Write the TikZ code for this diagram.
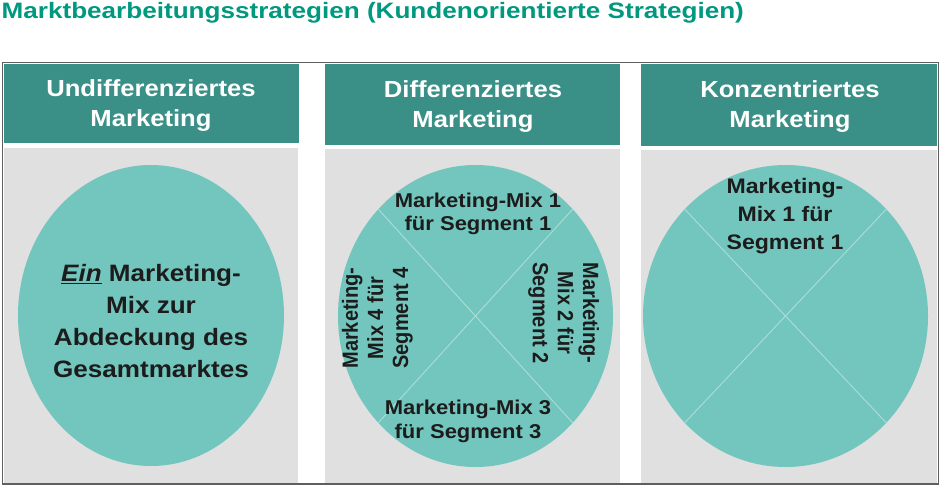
\documentclass[tikz,border=0pt]{standalone}
\usepackage{fontspec}
\setmainfont[FakeStretch=1.1]{Liberation Sans}
\newfontfamily\titlefont[FakeStretch=1.17]{Liberation Sans}
\newfontfamily\plainfont{Liberation Sans}
\definecolor{titlecol}{RGB}{0,152,126}
\definecolor{headcol}{RGB}{58,144,134}
\definecolor{circcol}{RGB}{115,198,190}
\definecolor{panelcol}{RGB}{224,224,224}
\definecolor{crosscol}{RGB}{172,222,216}
\definecolor{framecol}{RGB}{95,95,95}
\definecolor{txtcol}{RGB}{28,28,28}
\newcommand{\vtext}[1]{\scalebox{1}[1.1]{\begin{tabular}{@{}c@{}}#1\end{tabular}}}
\begin{document}
\begin{tikzpicture}[x=1pt,y=-1pt,
  headbox/.style={fill=headcol,draw=none},
  panelbox/.style={fill=panelcol,draw=none},
  headtxt/.style={text=white,font=\bfseries\fontsize{23.3}{30}\selectfont,align=center,inner sep=0pt},
  bigtxt/.style={text=txtcol,font=\bfseries\fontsize{23.7}{32}\selectfont,align=center,inner sep=0pt},
  segtxt/.style={text=txtcol,font=\bfseries\fontsize{20}{23.5}\selectfont,align=center,inner sep=0pt},
  vsegtxt/.style={text=txtcol,font=\plainfont\bfseries\fontsize{20}{22.8}\selectfont,inner sep=0pt},
  seg3txt/.style={text=txtcol,font=\bfseries\fontsize{21}{28}\selectfont,align=center,inner sep=0pt},
  crossline/.style={draw=crosscol,line width=0.9pt},
  circ/.style={fill=circcol}]
\useasboundingbox (0,0) rectangle (945,495);
% title
\node[anchor=base west,text=titlecol,font=\titlefont\bfseries\fontsize{22.3}{26}\selectfont,inner sep=0pt] (title) at (1.5,18.5) {Marktbearbeitungsstrategien (Kundenorientierte Strategien)};
% frame
\draw[framecol,line width=1.6pt,fill=white] (2.5,62.5) rectangle (938.5,484);
% column 1
\fill[headbox] (4,64) rectangle (299,143);
\fill[panelbox] (4,148) rectangle (298,483);
% column 2
\fill[headbox] (325,64) rectangle (620,145);
\fill[panelbox] (325,149) rectangle (620,483);
% column 3
\fill[headbox] (641,64) rectangle (937,146);
\fill[panelbox] (641,150) rectangle (937,483);
% headers
\node[headtxt] (h1) at (151,106) {Undifferenziertes\\Marketing};
\node[headtxt] (h2) at (473,107) {Differenziertes\\Marketing};
\node[headtxt] (h3) at (790,107) {Konzentriertes\\Marketing};
% circle 1
\fill[circ] (151,315.5) ellipse [x radius=133pt, y radius=150.5pt];
\node[bigtxt] (t1) at (151,321) {\underline{\itshape Ein} Marketing-\\Mix zur\\Abdeckung des\\Gesamtmarktes};
% circle 2
\fill[circ] (475.5,316) ellipse [x radius=137.5pt, y radius=151pt];
\coordinate (c2a) at (378.3,209.2);
\coordinate (c2b) at (572.7,209.2);
\coordinate (c2c) at (378.3,422.8);
\coordinate (c2d) at (572.7,422.8);
\draw[crossline] (c2a) -- (c2d);
\draw[crossline] (c2b) -- (c2c);
\node[segtxt] (s1) at (478,214) {Marketing-Mix 1\\für Segment 1};
\node[segtxt] (s3) at (468,421.5) {Marketing-Mix 3\\für Segment 3};
\node[vsegtxt,rotate=90] (s4) at (378,318) {\vtext{Marketing-\\Mix 4 für\\Segment 4}};
\node[vsegtxt,rotate=-90] (s2) at (563,313) {\vtext{Marketing-\\Mix 2 für\\Segment 2}};
% circle 3
\fill[circ] (785.5,316) ellipse [x radius=142.5pt, y radius=151pt];
\coordinate (c3a) at (684.7,209.2);
\coordinate (c3b) at (886.3,209.2);
\coordinate (c3c) at (684.7,422.8);
\coordinate (c3d) at (886.3,422.8);
\draw[crossline] (c3a) -- (c3d);
\draw[crossline] (c3b) -- (c3c);
\node[seg3txt] (k1) at (785,216) {Marketing-\\Mix 1 für\\Segment 1};
\end{tikzpicture}
\end{document}
